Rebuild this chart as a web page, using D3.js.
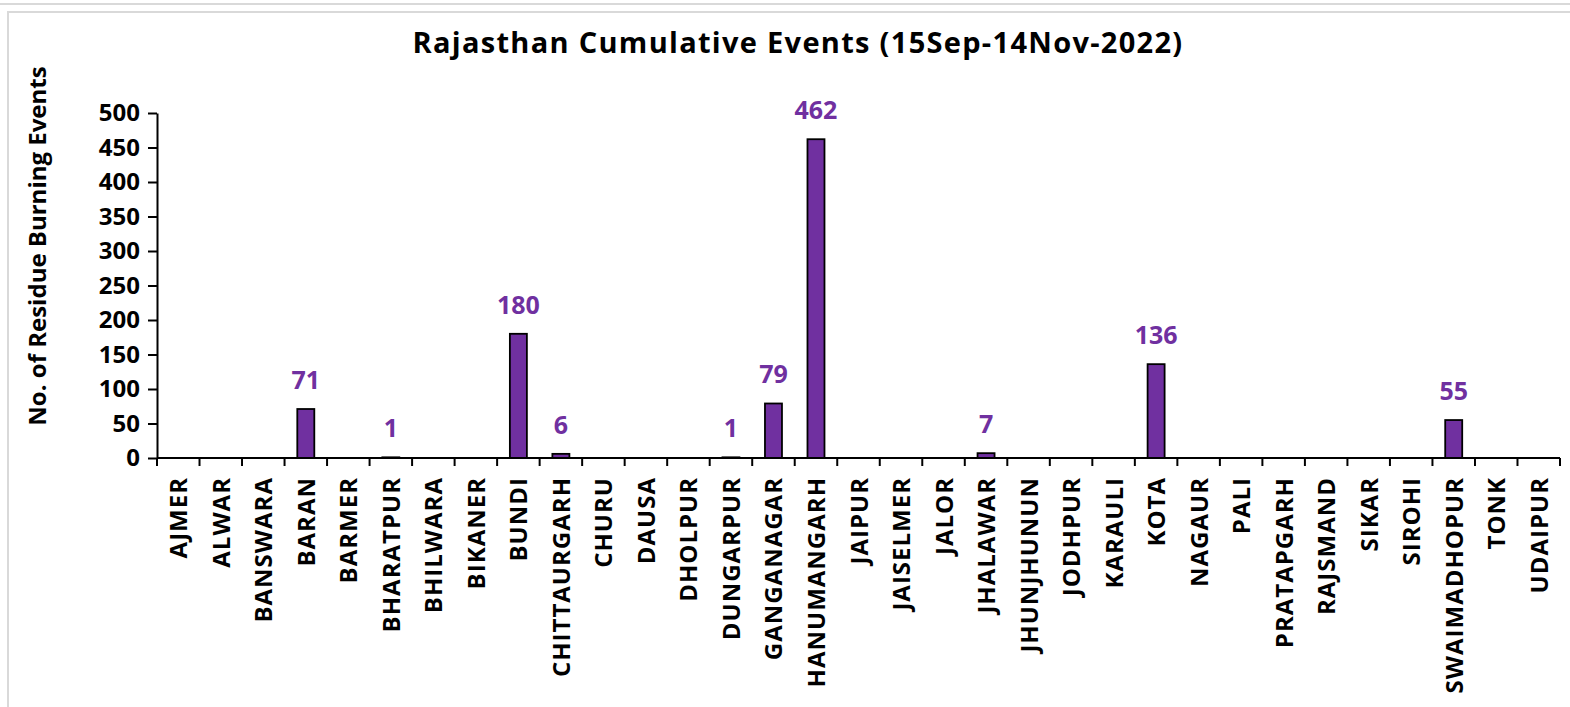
<!DOCTYPE html>
<meta charset="utf-8">
<script src="https://cdnjs.cloudflare.com/ajax/libs/d3/7.8.5/d3.min.js"></script>
<style>
  body { margin: 0; background: #fff; }
  text { font-family: "Open Sans", Lato, sans-serif; font-weight: bold; }
</style>
<div id="chart"></div>
<script>
  const districts = ['AJMER', 'ALWAR', 'BANSWARA', 'BARAN', 'BARMER', 'BHARATPUR', 'BHILWARA', 'BIKANER',
    'BUNDI', 'CHITTAURGARH', 'CHURU', 'DAUSA', 'DHOLPUR', 'DUNGARPUR', 'GANGANAGAR', 'HANUMANGARH',
    'JAIPUR', 'JAISELMER', 'JALOR', 'JHALAWAR', 'JHUNJHUNUN', 'JODHPUR', 'KARAULI', 'KOTA', 'NAGAUR',
    'PALI', 'PRATAPGARH', 'RAJSMAND', 'SIKAR', 'SIROHI', 'SWAIMADHOPUR', 'TONK', 'UDAIPUR']
  const events = [0, 0, 0, 71, 0, 1, 0, 0, 180, 6, 0, 0, 0, 1, 79, 462, 0, 0, 0, 7, 0, 0, 0, 136, 0,
    0, 0, 0, 0, 0, 55, 0, 0]
  const yTicks = [0, 50, 100, 150, 200, 250, 300, 350, 400, 450, 500]

  const W = 1570, H = 707
  const margin = { top: 113, right: 10, bottom: 249, left: 157 }
  const width = 1560 - margin.left
  const height = H - margin.top - margin.bottom

  const root = d3.select('#chart').append('svg')
    .attr('width', W).attr('height', H)

  // light frame like the source screenshot
  root.append('line').attr('x1', 0).attr('x2', W).attr('y1', 4).attr('y2', 4)
    .attr('stroke', '#d9d9d9').attr('stroke-width', 2)
  root.append('rect').attr('x', 8).attr('y', 12).attr('width', W).attr('height', H)
    .attr('fill', 'none').attr('stroke', '#d9d9d9').attr('stroke-width', 2)

  root.append('text')
    .attr('x', 798).attr('y', 53)
    .attr('text-anchor', 'middle')
    .style('font-size', '29px')
    .style('letter-spacing', '1.3px')
    .text('Rajasthan Cumulative Events (15Sep-14Nov-2022)')

  root.append('text')
    .attr('transform', 'translate(46,246) rotate(-90)')
    .attr('text-anchor', 'middle')
    .style('font-size', '24px')
    .text('No. of Residue Burning Events')

  const svg = root.append('g').attr('transform', 'translate(' + margin.left + ',' + margin.top + ')')

  const x = d3.scaleBand().domain(districts).range([0, width]).paddingInner(0.6).paddingOuter(0.3)
  const y = d3.scaleLinear().domain([0, 500]).range([height, 0])

  const nonZero = districts.map((d, i) => ({ name: d, value: events[i] })).filter(d => d.value > 0)

  // bars
  svg.selectAll('.bar').data(nonZero)
    .enter().append('rect')
    .attr('x', d => x(d.name))
    .attr('width', x.bandwidth())
    .attr('y', d => y(d.value))
    .attr('height', d => y(0) - y(d.value))
    .attr('fill', '#7030a0')
    .attr('stroke', '#000')
    .attr('stroke-width', 1.8)

  // value labels
  svg.selectAll('.lbl').data(nonZero)
    .enter().append('text')
    .attr('x', d => x(d.name) + x.bandwidth() / 2)
    .attr('y', d => y(d.value) - 20)
    .attr('text-anchor', 'middle')
    .attr('fill', '#7030a0')
    .style('font-size', '25px')
    .text(d => d.value)

  // y axis
  const yAxis = svg.append('g').call(d3.axisLeft(y).tickValues(yTicks).tickSize(9).tickPadding(8).tickSizeOuter(0))
  yAxis.selectAll('line, path').attr('stroke', '#000').attr('stroke-width', 2)
  yAxis.selectAll('text').style('font-size', '24px').attr('fill', '#000')

  // x axis: ticks on category boundaries
  const xAxis = svg.append('g').attr('transform', 'translate(0,' + height + ')')
  xAxis.append('line').attr('x1', 0).attr('x2', width).attr('stroke', '#000').attr('stroke-width', 2)
  const step = x.step()
  xAxis.selectAll('.tk').data(d3.range(districts.length + 1)).enter().append('line')
    .attr('x1', i => i * step).attr('x2', i => i * step)
    .attr('y1', 0).attr('y2', 8)
    .attr('stroke', '#000').attr('stroke-width', 2)
  xAxis.selectAll('.xl').data(districts).enter().append('text')
    .attr('transform', d => 'translate(' + (x(d) + x.bandwidth() / 2 + 9) + ',19) rotate(-90)')
    .attr('text-anchor', 'end')
    .style('font-size', '24px')
    .style('letter-spacing', '1px')
    .attr('fill', '#000')
    .text(d => d)
</script>
